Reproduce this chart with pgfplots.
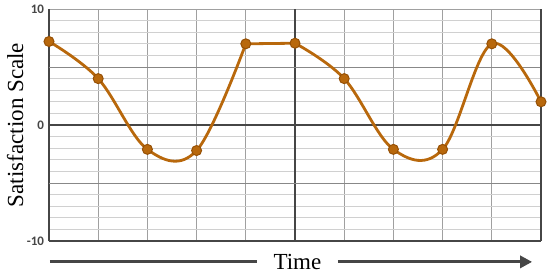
\documentclass[border=0pt]{standalone}
\usepackage{fontspec}
\setmainfont{Liberation Serif}
\newfontfamily\tickfont{Carlito}
\usepackage{pgfplots}
\pgfplotsset{compat=1.18}
\usetikzlibrary{arrows.meta}
\definecolor{LineBrown}{RGB}{184,104,12}
\definecolor{MarkEdge}{RGB}{150,80,5}
\definecolor{GridMinor}{RGB}{208,208,208}
\definecolor{GridMajor}{RGB}{160,160,160}
\definecolor{AxisDark}{RGB}{70,70,70}

\pgfplotsset{
    curve/.style={LineBrown, line width=1.4pt, smooth, tension=0.6,
      mark=*, mark size=2.5pt, mark options={fill=LineBrown, draw=MarkEdge, line width=0.5pt}},
}

\begin{document}
\begin{tikzpicture}
\begin{axis}[
    scale only axis,
    width=246pt, height=116pt,
    xmin=0, xmax=10, ymin=-10, ymax=10,
    axis x line=bottom, axis y line=left,
    axis line style={-, AxisDark, line width=0.8pt},
    xtick={0,...,10}, xticklabels={},
    ytick={-10,0,10},
    minor y tick num=9,
    major tick length=0pt, minor tick length=0pt,
    grid=both,
    major grid style={GridMajor, line width=0.5pt},
    minor grid style={GridMinor, line width=0.5pt},
    /pgf/number format/assume math mode=true,
    yticklabel style={font=\tickfont\bfseries\fontsize{6.5}{7}\selectfont, text=AxisDark, xshift=1pt},
    ylabel={Satisfaction Scale},
    ylabel style={font=\fontsize{11.5}{12}\selectfont, at={(rel axis cs:-0.069,0.5)}, anchor=center},
    clip=false,
  ]
  % emphasised lines
  \draw[AxisDark, line width=0.7pt] (axis cs:0,0) -- (axis cs:10,0);
  \draw[AxisDark, line width=0.7pt] (axis cs:5,-10) -- (axis cs:5,10);
  \draw[GridMajor!85!black, line width=0.5pt] (axis cs:0,5) -- (axis cs:10,5);
  \draw[GridMajor!85!black, line width=0.5pt] (axis cs:0,-5) -- (axis cs:10,-5);
  \draw[AxisDark, line width=0.8pt] (axis cs:10,-10) -- (axis cs:10,10);

  \addplot[LineBrown, line width=1.4pt, forget plot] coordinates {(4,7.0) (5,7.05)};
  \addplot[curve] coordinates {(0,7.2) (1,4.0) (2,-2.1) (3,-2.2) (4,7.0)};
  \addplot[curve] coordinates {(5,7.05) (6,4.0) (7,-2.1) (8,-2.1) (9,7.0) (10,2.0)};

  % time arrow
  \draw[AxisDark, line width=1.5pt] (rel axis cs:0.002,-0.09) -- (rel axis cs:0.423,-0.09);
  \draw[AxisDark, line width=1.5pt, -{Triangle[length=6pt,width=6pt]}] (rel axis cs:0.587,-0.09) -- (rel axis cs:0.982,-0.09);
  \node[font=\fontsize{11.5}{12}\selectfont, anchor=center] at (rel axis cs:0.505,-0.09) {Time};

  \coordinate (bbsw) at (rel axis cs:-0.0996,-0.1509);
  \coordinate (bbne) at (rel axis cs:1.0183,1.0388);
\end{axis}
\pgfresetboundingbox
\path[use as bounding box] (bbsw) rectangle (bbne);
\end{tikzpicture}
\end{document}
